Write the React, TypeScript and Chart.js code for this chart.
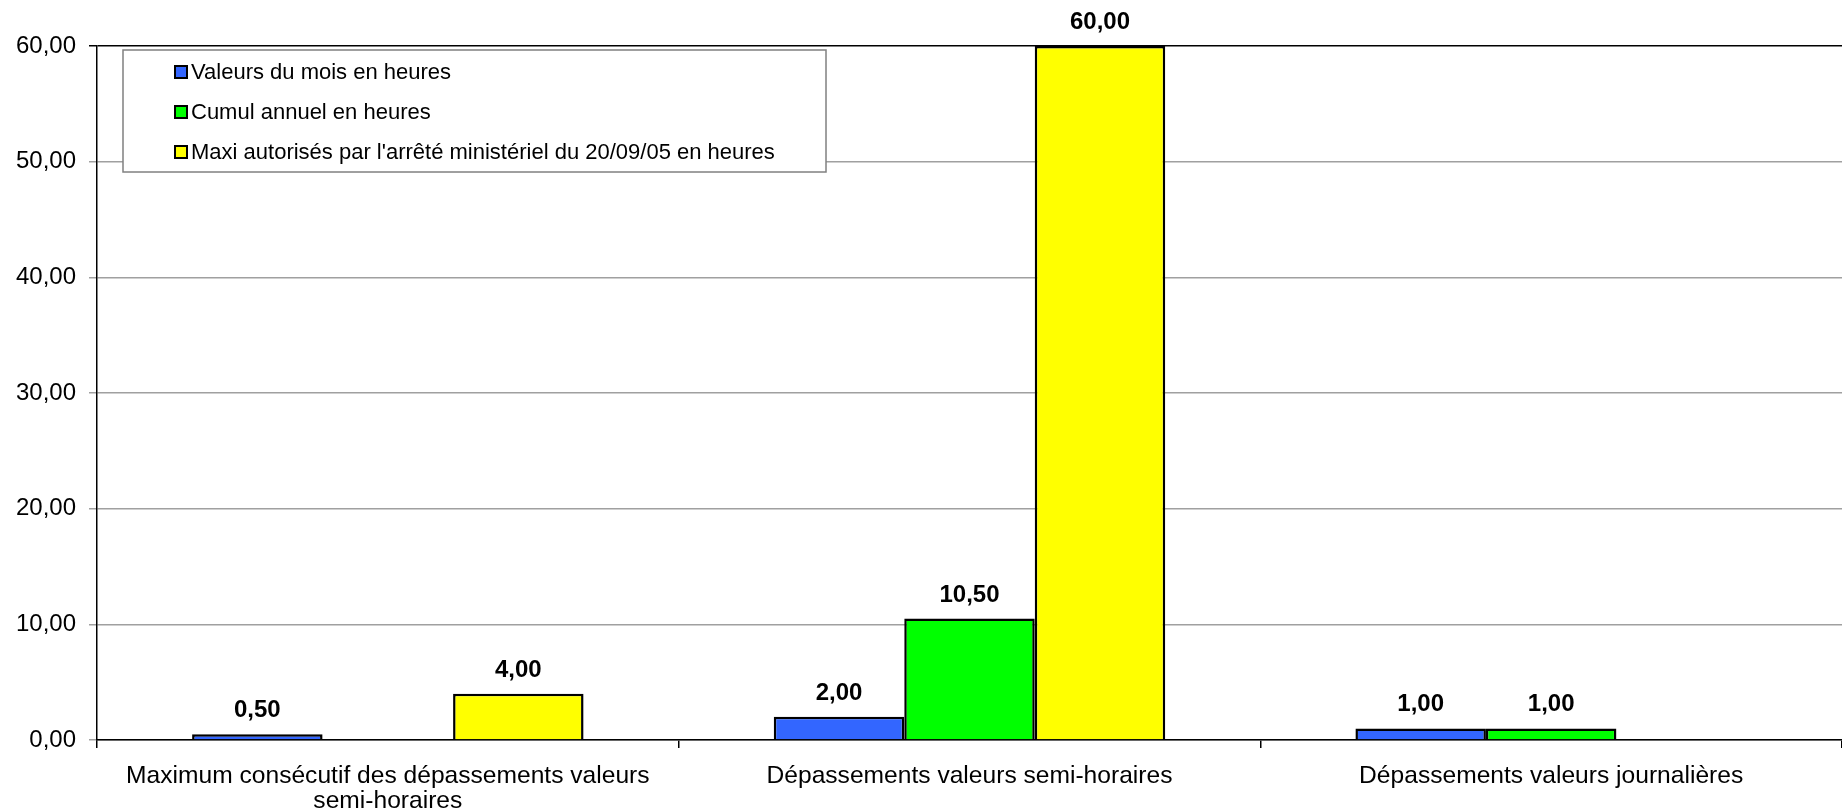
import React, { useEffect, useRef } from "react";
import { Chart, registerables } from "chart.js";

Chart.register(...registerables);

const categories: (string | string[])[] = [
  ["Maximum consécutif des dépassements valeurs", "semi-horaires"],
  "Dépassements valeurs semi-horaires",
  "Dépassements valeurs journalières",
];
const seriesNames = [
  "Valeurs du mois en heures",
  "Cumul annuel en heures",
  "Maxi autorisés par l'arrêté ministériel du 20/09/05 en heures",
];
const moisValues: (number | null)[] = [0.5, 2.0, 1.0];
const cumulValues: (number | null)[] = [null, 10.5, 1.0];
const maxiValues: (number | null)[] = [4.0, 60.0, null];
const seriesColors = ["#3366FF", "#00FF00", "#FFFF00"];
const yTicks = [0, 10, 20, 30, 40, 50, 60];

const fmt = (v: number) => v.toFixed(2).replace(".", ",");

const FONT = "'Liberation Sans', Arial, sans-serif";

const labelPlugin = {
  id: "valueLabels",
  afterDatasetsDraw(chart: any) {
    const ctx = chart.ctx;
    ctx.save();
    ctx.font = `bold 24px ${FONT}`;
    ctx.fillStyle = "#000";
    ctx.textAlign = "center";
    ctx.textBaseline = "alphabetic";
    chart.data.datasets.forEach((ds: any, i: number) => {
      const meta = chart.getDatasetMeta(i);
      meta.data.forEach((bar: any, j: number) => {
        const v = ds.data[j];
        if (v === null || v === undefined) return;
        ctx.fillText(fmt(v), bar.x, bar.y - 17);
      });
    });
    ctx.restore();
  },
};

const legendPlugin = {
  id: "boxLegend",
  afterDraw(chart: any) {
    const ctx = chart.ctx;
    const x0 = 123, y0 = 50, w = 703, h = 122;
    ctx.save();
    ctx.fillStyle = "#fff";
    ctx.fillRect(x0, y0, w, h);
    ctx.strokeStyle = "#808080";
    ctx.lineWidth = 1.5;
    ctx.strokeRect(x0, y0, w, h);
    ctx.font = `22px ${FONT}`;
    ctx.textBaseline = "middle";
    ctx.textAlign = "left";
    chart.data.datasets.forEach((ds: any, i: number) => {
      const cy = y0 + 22 + i * 40;
      const sx = x0 + 52;
      ctx.fillStyle = ds.backgroundColor;
      ctx.fillRect(sx, cy - 6, 12, 12);
      ctx.strokeStyle = "#000";
      ctx.lineWidth = 2;
      ctx.strokeRect(sx, cy - 6, 12, 12);
      ctx.fillStyle = "#000";
      ctx.fillText(ds.label, sx + 16, cy + 1);
    });
    ctx.restore();
  },
};

export default function App() {
  const ref = useRef<HTMLCanvasElement>(null);
  useEffect(() => {
    if (!ref.current) return;
    const chart = new Chart(ref.current, {
      type: "bar",
      data: {
        labels: categories,
        datasets: [
          { label: seriesNames[0], data: moisValues, backgroundColor: seriesColors[0], borderColor: "#000", borderWidth: 2.5 },
          { label: seriesNames[1], data: cumulValues, backgroundColor: seriesColors[1], borderColor: "#000", borderWidth: 2.5 },
          { label: seriesNames[2], data: maxiValues, backgroundColor: seriesColors[2], borderColor: "#000", borderWidth: 2.5 },
        ],
      },
      options: {
        animation: false,
        responsive: true,
        maintainAspectRatio: false,
        layout: { padding: { top: 46, left: 0, right: 0, bottom: 0 } },
        plugins: { legend: { display: false }, tooltip: { enabled: false } },
        datasets: { bar: { barPercentage: 1, categoryPercentage: 0.673, skipNull: false } },
        scales: {
          x: {
            grid: { display: true, drawOnChartArea: false, offset: true, color: "#000", tickLength: 8, lineWidth: 1.5 },
            border: { display: true, color: "#000", width: 1.5 },
            ticks: { color: "#000", font: { family: FONT, size: 24.6, lineHeight: 1.02 }, padding: 16, maxRotation: 0, autoSkip: false },
            afterFit: (s: any) => { s.height = 70; },
          },
          y: {
            min: 0,
            max: 60,
            afterBuildTicks: (s: any) => { s.ticks = yTicks.map((v) => ({ value: v })); },
            grid: {
              color: (c: any) => (c.tick && c.tick.value === 60 ? "#000" : "#a0a0a0"),
              lineWidth: 1.5,
              tickLength: 8,
              drawTicks: true,
            },
            border: { display: true, color: "#000", width: 1.5 },
            ticks: { color: "#000", font: { family: FONT, size: 24 }, padding: 13, callback: (v: any) => fmt(Number(v)) },
            afterFit: (s: any) => { s.width = 97; },
          },
        },
      },
      plugins: [labelPlugin, legendPlugin],
    });
    return () => chart.destroy();
  }, []);
  return (
    <div style={{ position: "fixed", left: 0, top: 0, width: 1842, height: 810, background: "#fff" }}>
      <canvas ref={ref} />
    </div>
  );
}
